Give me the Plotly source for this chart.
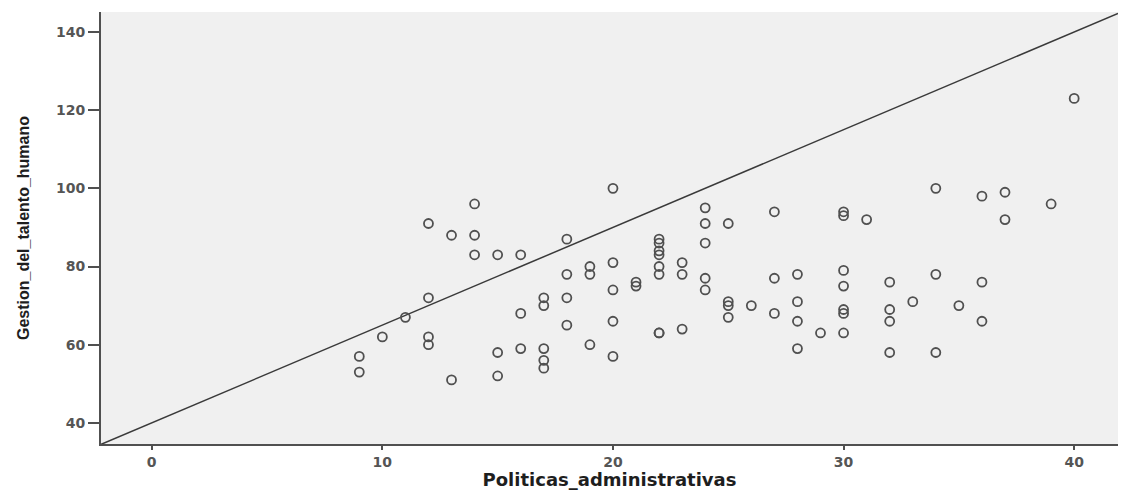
import plotly.graph_objects as go

# Politicas_administrativas scores (x) and Gestion_del_talento_humano scores (y)
politicas = [
    9, 9, 10, 11, 12, 12, 12, 12, 13, 13, 14, 14, 14, 15, 15, 15, 16, 16, 16,
    17, 17, 17, 17, 17, 18, 18, 18, 18, 19, 19, 19, 20, 20, 20, 20, 20,
    21, 21, 22, 22, 22, 22, 22, 22, 22, 22, 23, 23, 23, 24, 24, 24, 24, 24,
    25, 25, 25, 25, 26, 27, 27, 27, 28, 28, 28, 28, 29,
    30, 30, 30, 30, 30, 30, 30, 31, 32, 32, 32, 32, 33, 34, 34, 34, 35,
    36, 36, 36, 37, 37, 39, 40,
]
gestion = [
    57, 53, 62, 67, 91, 72, 62, 60, 88, 51, 96, 88, 83, 83, 58, 52, 83, 68, 59,
    72, 70, 59, 56, 54, 87, 78, 72, 65, 80, 78, 60, 100, 81, 74, 66, 57,
    76, 75, 87, 86, 84, 83, 80, 78, 63, 63, 81, 78, 64, 95, 91, 86, 77, 74,
    91, 71, 70, 67, 70, 94, 77, 68, 78, 71, 66, 59, 63,
    94, 93, 79, 75, 69, 68, 63, 92, 76, 69, 66, 58, 71, 100, 78, 58, 70,
    98, 76, 66, 99, 92, 96, 123,
]

# Reference line y = a + b*x
line_intercept = 40
line_slope = 2.5

x_ticks = [0, 10, 20, 30, 40]
y_ticks = [40, 60, 80, 100, 120, 140]

x_range = [-2.2, 41.9]
y_range = [34.6, 145.1]

line_x = x_range
line_y = [line_intercept + line_slope * v for v in line_x]

fig = go.Figure()

fig.add_trace(go.Scatter(
    x=line_x, y=line_y, mode="lines",
    line=dict(color="#3a3a3a", width=1.5),
    hoverinfo="skip", showlegend=False,
))

fig.add_trace(go.Scatter(
    x=politicas, y=gestion, mode="markers",
    marker=dict(symbol="circle-open", size=9,
                color="#505050", line=dict(width=1.8, color="#505050")),
    showlegend=False,
))

tick_font = dict(family="DejaVu Sans, sans-serif", size=14, color="#555555", weight="bold")

fig.update_layout(
    width=1122, height=490,
    margin=dict(l=101, r=4, t=12, b=46),
    paper_bgcolor="white",
    plot_bgcolor="#f0f0f0",
    xaxis=dict(
        range=x_range, tickvals=x_ticks, ticktext=[str(v) for v in x_ticks],
        showgrid=False, zeroline=False,
        showline=True, linecolor="#505050", linewidth=2,
        ticks="outside", ticklen=4, tickwidth=2, tickcolor="#505050",
        tickfont=tick_font,
        title=dict(text="<b>Politicas_administrativas</b>", standoff=1,
                   font=dict(family="DejaVu Sans, sans-serif", size=18, color="#1e1e1e")),
    ),
    yaxis=dict(
        range=y_range, tickvals=y_ticks, ticktext=[str(v) for v in y_ticks],
        showgrid=False, zeroline=False,
        showline=True, linecolor="#505050", linewidth=2,
        ticks="outside", ticklen=11, tickwidth=2, tickcolor="#505050",
        tickfont=tick_font,
        title=dict(text="<b>Gestion_del_talento_humano</b>", standoff=22,
                   font=dict(family="Liberation Sans, Arial, sans-serif", size=16, color="#1e1e1e")),
    ),
)

fig.write_html("out.html")
